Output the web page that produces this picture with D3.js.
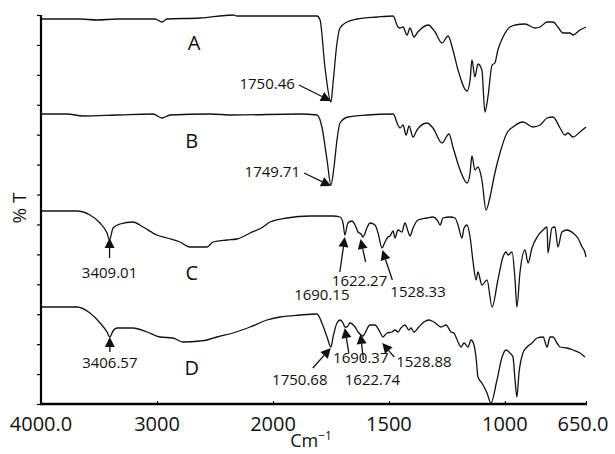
<!DOCTYPE html>
<html>
<head>
<meta charset="utf-8">
<script src="https://cdn.jsdelivr.net/npm/d3@7"></script>
<style>
  body { margin: 0; background: #fff; }
  svg text { font-family: "Open Sans", "Noto Sans", sans-serif; fill: #111; }
</style>
</head>
<body>
<script>
// FTIR spectra, wavenumber (cm-1) vs %T (stacked, arbitrary offset units)
var traceNames = ["A", "B", "C", "D"];

var specA = [[4000,385],[3664,385],[3517,384],[3345,385],[3017,385],[2957,382],[2914,385],[2629,386],
  [2345,389],[2310,388],[2052,388],[1810,388],[1797,384],[1776,337],[1750,302],[1741,321],[1724,361],
  [1711,376],[1681,382],[1638,385],[1551,387],[1482,388],[1461,377],[1452,376],[1439,377],[1422,369],
  [1409,376],[1392,367],[1375,372],[1331,379],[1301,372],[1271,361],[1245,368],[1224,354],[1202,334],
  [1163,313],[1150,324],[1142,344],[1129,327],[1116,340],[1099,334],[1086,292],[1073,307],[1055,339],
  [1043,341],[1030,354],[1008,367],[978,377],[956,379],[913,380],[870,376],[848,377],[818,382],
  [792,382],[771,377],[749,371],[719,371],[706,369],[676,374],[650,377]];

var specB = [[4000,290],[3776,290],[3638,288],[3345,289],[3034,290],[2957,286],[2888,289],[2543,290],
  [2345,289],[1884,290],[1810,289],[1789,277],[1767,244],[1750,219],[1737,237],[1724,264],[1711,281],
  [1677,287],[1595,289],[1482,290],[1461,279],[1452,276],[1439,279],[1426,269],[1413,278],[1396,267],
  [1379,274],[1336,281],[1310,276],[1271,261],[1241,270],[1224,257],[1193,234],[1163,221],[1150,231],
  [1142,248],[1129,234],[1116,237],[1099,224],[1081,194],[1064,207],[1043,231],[1021,251],[991,271],
  [965,277],[922,282],[879,277],[848,279],[818,286],[792,287],[762,276],[741,269],[728,271],[706,267],
  [676,272],[650,277]];

var specC = [[4000,193],[3690,193],[3578,189],[3491,181],[3431,171],[3409,164],[3379,176],[3319,180],
  [3207,182],[3121,177],[3000,169],[2914,166],[2802,162],[2716,157],[2603,157],[2569,157],[2517,162],
  [2397,164],[2310,165],[2198,171],[2086,177],[2026,182],[1940,186],[1840,188],[1741,188],[1711,187],
  [1698,181],[1690,169],[1677,181],[1659,183],[1646,179],[1633,172],[1620,170],[1612,167],[1595,176],
  [1582,181],[1560,179],[1547,171],[1530,156],[1517,162],[1504,167],[1495,168],[1482,173],[1474,166],
  [1461,174],[1444,172],[1431,181],[1418,173],[1409,168],[1396,176],[1375,184],[1336,186],[1310,187],
  [1292,184],[1279,179],[1267,186],[1237,187],[1215,186],[1202,179],[1185,166],[1176,176],[1163,179],
  [1150,167],[1137,142],[1124,124],[1116,132],[1099,119],[1077,124],[1055,97],[1030,124],[1008,147],
  [995,152],[986,149],[969,152],[956,124],[948,97],[935,131],[913,154],[900,141],[883,156],[861,167],
  [835,174],[818,177],[814,151],[797,176],[784,177],[771,157],[754,172],[732,174],[706,171],[685,166],
  [667,157],[655,152],[650,147]];

var specD = [[4000,97],[3690,97],[3578,91],[3491,81],[3431,72],[3407,67],[3379,73],[3345,76],[3207,76],
  [3086,72],[2974,67],[2862,66],[2776,62],[2629,63],[2569,64],[2483,67],[2345,71],[2198,77],[2052,84],
  [1970,87],[1884,89],[1810,90],[1789,81],[1767,67],[1750,57],[1741,67],[1724,81],[1711,84],[1698,81],
  [1690,77],[1681,77],[1668,81],[1646,77],[1633,72],[1620,69],[1612,68],[1603,71],[1582,79],[1560,79],
  [1539,72],[1526,67],[1508,71],[1487,72],[1474,74],[1461,72],[1448,76],[1431,79],[1414,74],[1405,76],
  [1392,72],[1371,77],[1349,82],[1327,84],[1306,82],[1275,77],[1254,79],[1232,72],[1220,71],[1202,62],
  [1189,57],[1176,61],[1159,57],[1146,64],[1133,59],[1124,46],[1116,27],[1099,21],[1077,11],[1060,1],
  [1034,24],[1012,47],[995,54],[978,51],[965,47],[956,24],[948,7],[939,31],[922,51],[904,57],[883,61],
  [861,66],[835,67],[818,57],[805,67],[792,67],[775,61],[762,57],[732,56],[706,54],[676,51],[655,47]];

var spectra = [specA, specB, specC, specD];

// peak annotations: trace index, label, wavenumber, %T at arrow tip
var peakTrace = [0, 1, 2, 2, 2, 2, 3, 3, 3, 3, 3];
var peakLabels = ["1750.46", "1749.71", "3409.01", "1690.15", "1622.27", "1528.33",
  "3406.57", "1750.68", "1690.37", "1622.74", "1528.88"];
var peakWaves = [1750.46, 1749.71, 3409.01, 1690.15, 1622.27, 1528.33,
  3406.57, 1750.68, 1690.37, 1622.74, 1528.88];
var peakTips = [303, 218, 166, 167, 165, 154, 67, 56, 76, 70, 61];

var xTicks = [4000, 3000, 2000, 1500, 1000, 650];
var xTickLabels = ["4000.0", "3000", "2000", "1500", "1000", "650.0"];

// layout
var W = 615, H = 454;
var svg = d3.select("body").append("svg").attr("width", W).attr("height", H);

// FTIR axis: scale doubles below 2000 cm-1
var x = d3.scaleLinear().domain([4000, 2000, 650]).range([41, 273, 586]);
var y = d3.scaleLinear().domain([0, 389]).range([404, 15]);

// arrow tail / text offsets (px) for each annotation
var tailOff = [[-32,-16],[-27,-13],[0,20],[-5,35],[5,23],[10,30],[0,15],[-18,20],[4,25],[3,26],[12,14]];
var textOff = [[-36,-12],[-31,-9],[0,40],[-23,63],[-1,47],[8,47],[0,31],[-31,37],[16,35],[12,51],[14,24]];
var textAnchor = ["end","end","middle","middle","middle","start","middle","middle","middle","middle","start"];

// trace letter positions (wavenumber, %T)
var letterPos = [[2680, 354], [2700, 256], [2700, 124], [2700, 29]];

var line = d3.line()
    .x(function(d) { return x(d[0]); })
    .y(function(d) { return y(d[1]); })
    .curve(d3.curveMonotoneX);

svg.append("g").selectAll("path")
    .data(spectra)
    .enter()
    .append("path")
    .attr("d", line)
    .attr("fill", "none")
    .attr("stroke", "#111")
    .attr("stroke-width", 1.3)
    .attr("stroke-linejoin", "round");

// axes
var yAxis = d3.axisLeft(y)
    .tickValues(d3.range(14).map(function(i) { return i * 389 / 13; }))
    .tickSize(4)
    .tickFormat("");
var gy = svg.append("g").attr("transform", "translate(41,0)").call(yAxis);
gy.select(".domain").attr("stroke-width", 2.2).attr("d", "M0,15V404");
gy.selectAll(".tick line").attr("stroke-width", 1.2);

var xAxis = d3.axisTop(x)
    .tickValues(xTicks)
    .tickSize(3)
    .tickFormat("");
var gx = svg.append("g").attr("transform", "translate(0,404)").call(xAxis);
gx.select(".domain").attr("stroke-width", 2.6).attr("d", "M40,0H587");

svg.append("g").selectAll("text")
    .data(xTicks)
    .enter()
    .append("text")
    .attr("x", function(d) { return Math.min(x(d), 583); })
    .attr("y", 431)
    .attr("text-anchor", "middle")
    .attr("font-size", "20px")
    .text(function(d, i) { return xTickLabels[i]; });

var xl = svg.append("text")
    .attr("x", 311)
    .attr("y", 447)
    .attr("text-anchor", "middle")
    .attr("font-size", "18px");
xl.append("tspan").text("Cm");
xl.append("tspan").attr("dy", -7).attr("font-size", "12px").text("\u22121");

svg.append("text")
    .attr("transform", "translate(26,208) rotate(-90)")
    .attr("text-anchor", "middle")
    .attr("font-size", "19px")
    .text("% T");

// trace letters
svg.append("g").selectAll("text")
    .data(traceNames)
    .enter()
    .append("text")
    .attr("x", function(d, i) { return x(letterPos[i][0]); })
    .attr("y", function(d, i) { return y(letterPos[i][1]); })
    .attr("text-anchor", "middle")
    .attr("font-size", "20px")
    .text(function(d) { return d; });

// peak annotations with arrows
var ann = svg.append("g");
peakLabels.forEach(function(lbl, i) {
    var tx = x(peakWaves[i]), ty = y(peakTips[i]);
    var sx = tx + tailOff[i][0], sy = ty + tailOff[i][1];
    var dx = tx - sx, dy = ty - sy, len = Math.sqrt(dx * dx + dy * dy);
    var ux = dx / len, uy = dy / len;
    var hl = 10, hw = 5;
    var bx = tx - ux * hl, by = ty - uy * hl;
    ann.append("line")
        .attr("x1", sx).attr("y1", sy)
        .attr("x2", bx).attr("y2", by)
        .attr("stroke", "#111")
        .attr("stroke-width", 1.3);
    ann.append("path")
        .attr("d", "M" + tx + "," + ty +
            "L" + (bx - uy * hw) + "," + (by + ux * hw) +
            "L" + (bx + uy * hw) + "," + (by - ux * hw) + "Z")
        .attr("fill", "#111");
    ann.append("text")
        .attr("x", tx + textOff[i][0])
        .attr("y", ty + textOff[i][1])
        .attr("text-anchor", textAnchor[i])
        .attr("font-size", "15px")
        .text(lbl);
});
</script>
</body>
</html>
